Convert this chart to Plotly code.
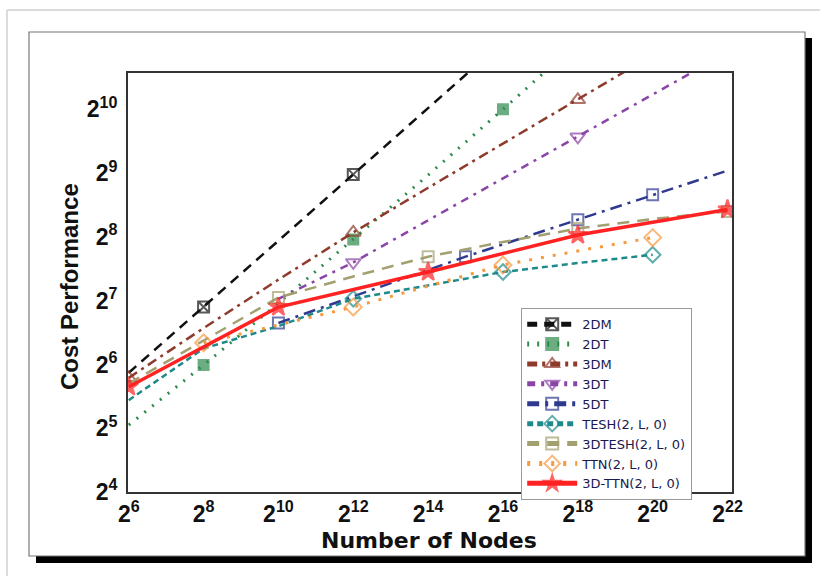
import math
import plotly.graph_objects as go

# ---- data: exponents (log2) ----
x_2DM = [6, 8, 10, 12, 14, 16]
y_2DM = [5.87, 6.90, 7.94, 8.98, 10.02, 11.06]
m_2DM = [8, 12]

x_2DT = [6, 8, 10, 12, 14, 16, 18]
y_2DT = [5.05, 5.99, 6.96, 7.96, 8.97, 10.00, 11.05]
m_2DT = [8, 12, 16]

x_3DM = [6, 8, 10, 12, 14, 16, 18, 20]
y_3DM = [5.79, 6.57, 7.33, 8.07, 8.77, 9.46, 10.15, 10.85]
m_3DM = [6, 12, 18]

x_3DT = [10, 12, 14, 16, 18, 20, 22]
y_3DT = [7.03, 7.60, 8.26, 8.92, 9.57, 10.23, 10.89]
m_3DT = [12, 18]

x_5DT = [10, 15, 18, 20, 22]
y_5DT = [6.65, 7.69, 8.27, 8.66, 9.04]
m_5DT = [10, 15, 18, 20]

x_TESH = [6, 8, 10, 12, 14, 16, 18, 20]
y_TESH = [5.44, 6.25, 6.60, 7.03, 7.24, 7.45, 7.59, 7.72]
m_TESH = [12, 16, 20]

x_3DTESH = [6, 8, 10, 12, 14, 16, 18, 20, 22]
y_3DTESH = [5.70, 6.38, 7.05, 7.38, 7.69, 7.92, 8.13, 8.28, 8.40]
m_3DTESH = [10, 14, 18, 22]

x_TTN = [8, 10, 12, 14, 16, 18, 20]
y_TTN = [6.34, 6.62, 6.90, 7.23, 7.56, 7.78, 7.99]
m_TTN = [8, 12, 16, 20]

x_3DTTN = [6, 10, 14, 18, 22]
y_3DTTN = [5.65, 6.90, 7.45, 8.03, 8.43]
m_3DTTN = [6, 10, 14, 18, 22]

x_ticks = [6, 8, 10, 12, 14, 16, 18, 20, 22]
y_ticks = [4, 5, 6, 7, 8, 9, 10]

series = [
    ("2DM", x_2DM, y_2DM, m_2DM, "#111111", "10px,7px", 2.5, "square-x-open", 11),
    ("2DT", x_2DT, y_2DT, m_2DT, "#2E8B4E", "2px,8px", 3, "square", 10),
    ("3DM", x_3DM, y_3DM, m_3DM, "#8E3B2B", "10px,5px,3px,5px", 2.5, "triangle-up-open", 13),
    ("3DT", x_3DT, y_3DT, m_3DT, "#8B45A8", "8px,6px,3px,6px", 2.5, "triangle-down-open", 13),
    ("5DT", x_5DT, y_5DT, m_5DT, "#2F3A8F", "12px,6px,3px,6px", 2.5, "square-open", 11),
    ("TESH(2, L, 0)", x_TESH, y_TESH, m_TESH, "#1E8A8A", "6px,4px", 2.5, "diamond-open", 12),
    ("3DTESH(2, L, 0)", x_3DTESH, y_3DTESH, m_3DTESH, "#A3A070", "12px,8px", 2.5, "square-open", 11),
    ("TTN(2, L, 0)", x_TTN, y_TTN, m_TTN, "#F59A40", "3px,9px", 3, "diamond-open", 13),
    ("3D-TTN(2, L, 0)", x_3DTTN, y_3DTTN, m_3DTTN, "#FF2222", "solid", 3.5, "star", 14),
]

fig = go.Figure()
for name, xs, ys, marks, col, dash, lw, sym, ms in series:
    sizes = [ms if x in marks else 0 for x in xs]
    fig.add_trace(go.Scatter(
        x=[2 ** v for v in xs], y=[2 ** v for v in ys], name=name,
        mode="lines+markers",
        line=dict(color=col, dash=dash, width=lw),
        marker=dict(symbol=sym, size=sizes, color=col,
                    line=dict(color=col, width=2)),
    ))

# plot area in pixels
L, R, T, B = 128, 732, 73, 492
W, H = 820, 576
pw, ph = R - L, B - T


def px(xp):
    return (xp - L) / pw


def py(yp):
    return (B - yp) / ph


xr = [5.98 * math.log10(2), 22.12 * math.log10(2)]
yr = [4 * math.log10(2), 10.57 * math.log10(2)]

tickfont = dict(family="Liberation Sans, Arial", size=23, color="#111")
fig.update_xaxes(type="log", range=xr, tickvals=[2 ** v for v in x_ticks],
                 ticktext=[f"<b>2<sup>{v}</sup></b>" for v in x_ticks],
                 tickfont=tickfont, showgrid=False, zeroline=False,
                 showline=True, linecolor="#333", linewidth=2, mirror=True,
                 ticks="", ticklabelstandoff=0)
fig.update_yaxes(type="log", range=yr, tickvals=[2 ** v for v in y_ticks],
                 ticktext=[f"<b>2<sup>{v}</sup></b>" for v in y_ticks],
                 tickfont=tickfont, showgrid=False, zeroline=False,
                 showline=True, linecolor="#333", linewidth=2, mirror=True,
                 ticks="", ticklabelstandoff=4)

shapes = [
    # outer light gray frame lines
    dict(type="line", xref="paper", yref="paper", x0=px(7), x1=px(820), y0=py(10), y1=py(10),
         line=dict(color="#cfcfcf", width=1.5)),
    dict(type="line", xref="paper", yref="paper", x0=px(7), x1=px(7), y0=py(10), y1=py(576),
         line=dict(color="#cfcfcf", width=1.5)),
    # black shadow
    dict(type="rect", xref="paper", yref="paper", x0=px(805), x1=px(812), y0=py(38), y1=py(563),
         fillcolor="#000", line=dict(width=0), layer="below"),
    dict(type="rect", xref="paper", yref="paper", x0=px(36), x1=px(812), y0=py(556), y1=py(563),
         fillcolor="#000", line=dict(width=0), layer="below"),
    # inner frame
    dict(type="rect", xref="paper", yref="paper", x0=px(29), x1=px(805), y0=py(32), y1=py(556),
         line=dict(color="#777", width=1.2), layer="below"),
]

annotations = [
    dict(text="<b>Number of Nodes</b>", xref="paper", yref="paper", x=px(429), y=py(540),
         showarrow=False, font=dict(family="DejaVu Sans", size=22, color="#111"),
         xanchor="center", yanchor="middle"),
    dict(text="<b>Cost Performance</b>", xref="paper", yref="paper", x=px(69), y=py(287),
         showarrow=False, textangle=-90,
         font=dict(family="Liberation Sans, Arial", size=24, color="#111"),
         xanchor="center", yanchor="middle"),
]

fig.update_layout(
    width=W, height=H,
    margin=dict(l=L, r=W - R, t=T, b=H - B, pad=0),
    paper_bgcolor="white", plot_bgcolor="white",
    shapes=shapes, annotations=annotations,
    showlegend=True,
    legend=dict(x=px(521), y=py(308), xanchor="left", yanchor="top",
                bgcolor="white", bordercolor="#999", borderwidth=1.2,
                font=dict(family="DejaVu Sans", size=13, color="#1a1a50"),
                itemsizing="constant", itemwidth=50, tracegroupgap=0),
)

fig.write_html("out.html", config={"displayModeBar": False},
               post_script="document.body.style.margin='0';document.body.style.overflow='hidden';")
